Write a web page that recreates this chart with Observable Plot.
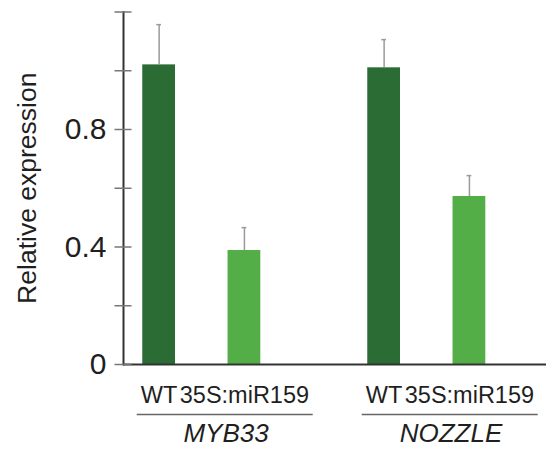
<!DOCTYPE html>
<html>
<head>
<meta charset="utf-8">
<script src="https://cdn.jsdelivr.net/npm/d3@7"></script>
<script src="https://cdn.jsdelivr.net/npm/@observablehq/plot@0.6"></script>
<style>
  html, body { margin: 0; padding: 0; background: #fff; }
  #chart svg { overflow: hidden; }
</style>
</head>
<body>
<div id="chart"></div>
<script>
const genes = ["MYB33", "NOZZLE"];
const genotypes = ["WT", "35S:miR159"];
const wtValues = [1.02, 1.01];
const wtErrors = [0.137, 0.096];
const mirValues = [0.388, 0.572];
const mirErrors = [0.078, 0.071];
const yTicks = [0, 0.2, 0.4, 0.6, 0.8, 1.0, 1.2];
const yLabels = [0, 0.4, 0.8];
const colors = ["#2b6b34", "#54ae48"];

const data = [];
genes.forEach((g, i) => {
  data.push({gene: g, genotype: genotypes[0], value: wtValues[i], err: wtErrors[i]});
  data.push({gene: g, genotype: genotypes[1], value: mirValues[i], err: mirErrors[i]});
});

const font = "'Liberation Sans', Arial, Helvetica, sans-serif";

const chart = Plot.plot({
  width: 546,
  height: 453,
  marginLeft: 123,
  marginRight: -27.6,
  marginTop: 11.5,
  marginBottom: 89,
  style: {fontFamily: font, background: "#fff", color: "#1f1f1f"},
  fx: {domain: genes, padding: 0, axis: null},
  x: {domain: genotypes, paddingInner: 0.616, paddingOuter: 0.627, align: 0.18, round: false},
  y: {domain: [0, 1.2]},
  color: {domain: genotypes, range: colors},
  marks: [
    Plot.barY(data, {fx: "gene", x: "genotype", y: "value", fill: "genotype"}),
    Plot.ruleX(data, {fx: "gene", x: "genotype", y1: "value", y2: d => d.value + d.err, stroke: "#9a9a9a", strokeWidth: 1.5}),
    Plot.tickY(data, {fx: "gene", x: "genotype", y: d => d.value + d.err, stroke: "#9a9a9a", strokeWidth: 1.5, insetLeft: 14, insetRight: 14}),
    Plot.ruleY([0], {stroke: "#333", strokeWidth: 2}),
    Plot.frame({anchor: "left", facetAnchor: "left", stroke: "#333", strokeWidth: 2}),
    Plot.axisY({ticks: yTicks, tickSize: 17, dx: 8.5, tickFormat: () => "", stroke: "#777", strokeWidth: 1.5, label: null}),
    Plot.axisY({ticks: yLabels, tickSize: 0, tickPadding: 17, fontSize: 30, label: null, tickFormat: d => String(d)}),
    Plot.axisX({tickSize: 0, tickPadding: 22, fontSize: 23.5, label: null}),
    Plot.ruleY([0], {dy: 50, insetLeft: 13.7, insetRight: 35.3, stroke: "#666", strokeWidth: 1.5}),
    Plot.text(genes, {fx: d => d, text: d => d, frameAnchor: "bottom", dx: -10, dy: 69, lineAnchor: "middle", fontSize: 26, fontStyle: "italic"}),
    Plot.text(["Relative expression"], {frameAnchor: "left", facetAnchor: "left", rotate: -90, dx: -96, textAnchor: "middle", lineAnchor: "middle", fontSize: 26.5})
  ]
});
document.getElementById("chart").appendChild(chart);
</script>
</body>
</html>
